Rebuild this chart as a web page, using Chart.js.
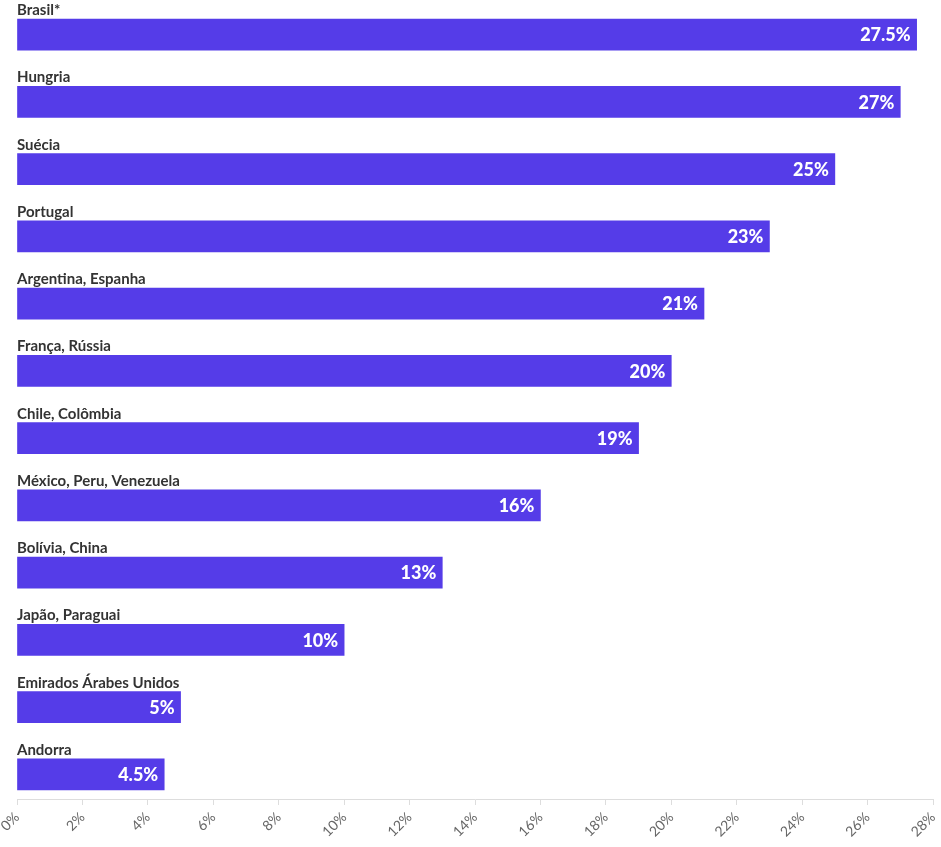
<!DOCTYPE html>
<html><head><meta charset="utf-8">
<script src="https://cdn.jsdelivr.net/npm/chart.js@4.4.1/dist/chart.umd.min.js"></script>
<style>html,body{margin:0;padding:0;background:#fff}#wrap{width:941px;height:847px}</style>
</head><body><div id="wrap"><canvas id="c"></canvas></div>
<script>
const categories = ["Brasil*","Hungria","Suécia","Portugal","Argentina, Espanha","França, Rússia","Chile, Colômbia","México, Peru, Venezuela","Bolívia, China","Japão, Paraguai","Emirados Árabes Unidos","Andorra"];
const values = [27.5,27,25,23,21,20,19,16,13,10,5,4.5];
const valueLabels = ["27.5%","27%","25%","23%","21%","20%","19%","16%","13%","10%","5%","4.5%"];
const xTicks = [0,2,4,6,8,10,12,14,16,18,20,22,24,26,28];

const FONT = "Lato, 'Noto Sans', sans-serif";
const labelPlugin = {
  id:'labels',
  afterDatasetsDraw(chart){
    const ctx = chart.ctx;
    const meta = chart.getDatasetMeta(0);
    ctx.save();
    meta.data.forEach((bar,i)=>{
      const top = bar.y - bar.height/2;
      ctx.font = "bold 15px " + FONT;
      ctx.fillStyle = "#333";
      ctx.textAlign = "left";
      ctx.textBaseline = "alphabetic";
      ctx.fillText(categories[i], chart.chartArea.left, top - 4);
      ctx.font = "900 18px " + FONT;
      ctx.fillStyle = "#fff";
      ctx.textAlign = "right";
      ctx.textBaseline = "middle";
      ctx.fillText(valueLabels[i], bar.x - 6, bar.y + 1);
    });
    ctx.restore();
  }
};

new Chart(document.getElementById('c'), {
  type:'bar',
  data:{
    datasets:[{
      data: values.map((v,i)=>({x:v,y:i})),
      backgroundColor:'#553CE8',
      borderWidth:0,
      barThickness:31
    }]
  },
  options:{
    indexAxis:'y',
    responsive:true,
    maintainAspectRatio:false,
    animation:false,
    layout:{padding:{top:1,left:17,right:8,bottom:0}},
    plugins:{legend:{display:false},tooltip:{enabled:false}},
    scales:{
      y:{type:'linear',reverse:true,min:-0.5,max:11.365,offset:false,grid:{offset:false},display:false},
      x:{
        type:'linear',min:0,max:28,
        afterBuildTicks(s){ s.ticks = xTicks.map(v=>({value:v})); },
        afterFit(s){ s.height = 48; s.paddingRight = 0; s.paddingLeft = 0; },
        ticks:{color:'#666',font:{family:FONT,size:14},minRotation:45,maxRotation:45,padding:4,
          callback:(v)=>v+'%'},
        grid:{drawOnChartArea:false,color:'#ddd',tickLength:6},
        border:{color:'#ddd'}
      }
    }
  },
  plugins:[labelPlugin]
});
</script></body></html>
